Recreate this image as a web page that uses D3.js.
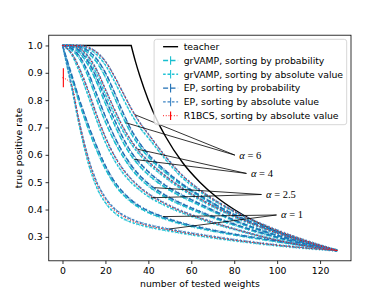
<!DOCTYPE html>
<html>
<head>
<meta charset="utf-8">
<script src="https://cdn.jsdelivr.net/npm/d3@7"></script>
<style>
html, body { margin: 0; padding: 0; background: #fff; }
svg { display: block; font-family: "DejaVu Sans", sans-serif; }
</style>
</head>
<body>
<div id="chart"></div>
<script>
// x positions shared by all method curves
const testedWeights = [0, 4, 8, 12, 16, 20, 24, 28, 32, 36, 40, 48, 56, 64, 80, 96, 112, 128];

// teacher curve
const teacherX = [0, 32, 34, 36, 40, 44, 48, 56, 64, 72, 80, 96, 112, 128];
const teacherY = [1, 1, 0.941, 0.889, 0.8, 0.727, 0.667, 0.571, 0.5, 0.444, 0.4, 0.333, 0.286, 0.25];

// alpha = 1
const grvampProbA1 = [1, 0.89, 0.785, 0.695, 0.615, 0.548, 0.495, 0.456, 0.428, 0.406, 0.389, 0.365, 0.346, 0.331, 0.307, 0.287, 0.268, 0.25];
const epProbA1     = [1, 0.90, 0.80, 0.71, 0.63, 0.56, 0.505, 0.465, 0.435, 0.412, 0.395, 0.37, 0.35, 0.335, 0.31, 0.29, 0.27, 0.25];
const grvampAbsA1  = [1, 0.855, 0.70, 0.57, 0.48, 0.425, 0.39, 0.368, 0.354, 0.344, 0.336, 0.324, 0.313, 0.303, 0.286, 0.271, 0.259, 0.25];
const epAbsA1      = [1, 0.865, 0.715, 0.59, 0.50, 0.443, 0.405, 0.381, 0.365, 0.353, 0.344, 0.331, 0.319, 0.309, 0.29, 0.274, 0.261, 0.25];
const r1bcsAbsA1   = [0.882, 0.86, 0.71, 0.582, 0.492, 0.436, 0.399, 0.376, 0.36, 0.349, 0.34, 0.328, 0.316, 0.306, 0.288, 0.273, 0.26, 0.25];

// alpha = 2.5
const grvampProbA25 = [1, 0.985, 0.95, 0.885, 0.80, 0.72, 0.652, 0.596, 0.55, 0.514, 0.486, 0.445, 0.414, 0.388, 0.343, 0.305, 0.274, 0.25];
const epProbA25     = [1, 0.99, 0.96, 0.90, 0.82, 0.74, 0.67, 0.61, 0.562, 0.524, 0.495, 0.452, 0.42, 0.393, 0.347, 0.308, 0.276, 0.25];
const grvampAbsA25  = [1, 0.97, 0.90, 0.815, 0.725, 0.645, 0.583, 0.535, 0.499, 0.471, 0.448, 0.414, 0.387, 0.365, 0.327, 0.294, 0.268, 0.25];
const epAbsA25      = [1, 0.975, 0.915, 0.835, 0.745, 0.665, 0.60, 0.55, 0.512, 0.482, 0.458, 0.422, 0.393, 0.37, 0.33, 0.296, 0.27, 0.25];
const r1bcsAbsA25   = [1, 0.974, 0.912, 0.832, 0.742, 0.662, 0.598, 0.548, 0.51, 0.48, 0.456, 0.42, 0.391, 0.368, 0.329, 0.295, 0.269, 0.25];

// alpha = 4
const grvampProbA4 = [1, 0.995, 0.972, 0.928, 0.864, 0.787, 0.714, 0.649, 0.597, 0.558, 0.527, 0.48, 0.445, 0.415, 0.358, 0.313, 0.279, 0.25];
const epProbA4     = [1, 0.997, 0.98, 0.94, 0.88, 0.805, 0.732, 0.665, 0.61, 0.57, 0.538, 0.488, 0.452, 0.421, 0.362, 0.316, 0.281, 0.25];
const grvampAbsA4  = [1, 0.998, 0.985, 0.95, 0.895, 0.822, 0.752, 0.69, 0.64, 0.6, 0.568, 0.516, 0.472, 0.435, 0.373, 0.323, 0.283, 0.25];
const epAbsA4      = [1, 1, 0.99, 0.96, 0.91, 0.84, 0.77, 0.705, 0.652, 0.61, 0.577, 0.523, 0.478, 0.44, 0.377, 0.326, 0.285, 0.25];
const r1bcsAbsA4   = [1, 1, 0.989, 0.958, 0.908, 0.838, 0.768, 0.703, 0.65, 0.608, 0.575, 0.522, 0.477, 0.439, 0.376, 0.325, 0.284, 0.25];

// alpha = 6
const grvampProbA6 = [1, 1, 0.993, 0.972, 0.938, 0.884, 0.814, 0.741, 0.678, 0.63, 0.592, 0.535, 0.487, 0.448, 0.379, 0.328, 0.285, 0.25];
const epProbA6     = [1, 1, 0.996, 0.98, 0.95, 0.9, 0.832, 0.758, 0.692, 0.642, 0.602, 0.542, 0.492, 0.452, 0.382, 0.33, 0.286, 0.25];
const grvampAbsA6  = [1, 1, 0.998, 0.988, 0.966, 0.928, 0.872, 0.81, 0.75, 0.70, 0.662, 0.583, 0.515, 0.466, 0.391, 0.335, 0.289, 0.25];
const epAbsA6      = [1, 1, 1, 0.993, 0.975, 0.942, 0.89, 0.83, 0.77, 0.718, 0.676, 0.594, 0.524, 0.472, 0.394, 0.337, 0.29, 0.25];
const r1bcsAbsA6   = [1, 1, 1, 0.992, 0.974, 0.941, 0.889, 0.829, 0.769, 0.717, 0.675, 0.593, 0.523, 0.471, 0.393, 0.336, 0.29, 0.25];

// error bar on the first R1BCS point at alpha = 1
const r1bcsStartErr = 0.035;

const xTicks = [0, 20, 40, 60, 80, 100, 120];
const yTicks = [0.3, 0.4, 0.5, 0.6, 0.7, 0.8, 0.9, 1.0];

const methods = [
    { key: "grvampProb", label: "grVAMP, sorting by probability",    color: "#17becf", dash: "5,2.4",   width: 1.4, ticks: true },
    { key: "grvampAbs",  label: "grVAMP, sorting by absolute value", color: "#22c3d6", dash: "2.6,1.8", width: 1.4, ticks: true },
    { key: "epProb",     label: "EP, sorting by probability",        color: "#1f6fb4", dash: "5,2.4",   width: 1.4, ticks: true },
    { key: "epAbs",      label: "EP, sorting by absolute value",     color: "#3c84c4", dash: "2.6,1.8", width: 1.4, ticks: true },
    { key: "r1bcsAbs",   label: "R1BCS, sorting by absolute value",  color: "#ff0000", dash: "0.9,1.8", width: 1.0, ticks: false }
];

const seriesByMethod = {
    grvampProb: [grvampProbA1, grvampProbA25, grvampProbA4, grvampProbA6],
    grvampAbs:  [grvampAbsA1, grvampAbsA25, grvampAbsA4, grvampAbsA6],
    epProb:     [epProbA1, epProbA25, epProbA4, epProbA6],
    epAbs:      [epAbsA1, epAbsA25, epAbsA4, epAbsA6],
    r1bcsAbs:   [r1bcsAbsA1, r1bcsAbsA25, r1bcsAbsA4, r1bcsAbsA6]
};

// annotations: text position (data units) and the curves the lines point to
const annotations = [
    { label: "6",   textX: 82.4, textY: 0.599, targets: [{ s: grvampProbA6, x: 29.5 }, { s: epAbsA6, x: 33.8 }] },
    { label: "4",   textX: 87.8, textY: 0.532, targets: [{ s: grvampProbA4, x: 33.4 }, { s: epAbsA4, x: 35.0 }] },
    { label: "2.5", textX: 94.8, textY: 0.455, targets: [{ s: epProbA25, x: 42.8 }, { s: grvampAbsA25, x: 41.2 }] },
    { label: "1",   textX: 101.8, textY: 0.380, targets: [{ s: epProbA1, x: 46.7 }, { s: epAbsA1, x: 49.6 }] }
];

const W = 390, H = 293;
const margin = { left: 48.75, right: 39, top: 35.2, bottom: 32.2 };
const fs = 9.3;

const svg = d3.select("#chart").append("svg")
    .attr("width", W)
    .attr("height", H);

const x = d3.scaleLinear().domain([-6.4, 134.4]).range([margin.left, W - margin.right]);
const y = d3.scaleLinear().domain([0.2125, 1.0375]).range([H - margin.bottom, margin.top]);

svg.append("defs").append("clipPath").attr("id", "plot-clip")
    .append("rect")
    .attr("x", margin.left).attr("y", margin.top)
    .attr("width", W - margin.left - margin.right)
    .attr("height", H - margin.top - margin.bottom);

const plot = svg.append("g").attr("clip-path", "url(#plot-clip)");

const line = d3.line()
    .x(d => x(d[0]))
    .y(d => y(d[1]))
    .curve(d3.curveMonotoneX);

// teacher: flat part then decay
const teacherPts = teacherX.map((v, i) => [v, teacherY[i]]);
plot.append("path")
    .attr("d", d3.line().x(d => x(d[0])).y(d => y(d[1]))(teacherPts.slice(0, 2)) + line(teacherPts.slice(1)).replace(/^M/, "L"))
    .attr("fill", "none")
    .attr("stroke", "#000")
    .attr("stroke-width", 1.4);

// method curves with dense error-bar ticks
methods.forEach(m => {
    seriesByMethod[m.key].forEach(vals => {
        const pts = testedWeights.map((v, i) => [v, vals[i]]);
        const path = plot.append("path")
            .attr("d", line(pts))
            .attr("fill", "none")
            .attr("stroke", m.color)
            .attr("stroke-width", m.width)
            .attr("stroke-dasharray", m.dash);

        if (!m.ticks) return;
        const node = path.node();
        const len = node.getTotalLength();
        const ticks = [];
        for (let l = 1; l < len; l += 3.3) ticks.push(node.getPointAtLength(l));
        plot.append("g").selectAll("line")
            .data(ticks)
            .join("line")
            .attr("x1", d => d.x).attr("x2", d => d.x)
            .attr("y1", d => d.y - 1.3).attr("y2", d => d.y + 1.3)
            .attr("stroke", m.color)
            .attr("stroke-width", 0.7)
            .attr("opacity", 0.85);
    });
});

// large error bar at the start of R1BCS alpha = 1
plot.append("line")
    .attr("x1", x(0.4)).attr("x2", x(0.4))
    .attr("y1", y(r1bcsAbsA1[0] + r1bcsStartErr))
    .attr("y2", y(r1bcsAbsA1[0] - r1bcsStartErr))
    .attr("stroke", "#ff0000")
    .attr("stroke-width", 1.1);

// annotation lines + labels
annotations.forEach(a => {
    const tx = x(a.textX), ty = y(a.textY);
    a.targets.forEach(t => {
        const interp = d3.scaleLinear().domain(testedWeights).range(t.s);
        svg.append("line")
            .attr("x1", tx - 4.5).attr("y1", ty)
            .attr("x2", x(t.x)).attr("y2", y(interp(t.x)))
            .attr("stroke", "#000")
            .attr("stroke-width", 0.8);
    });
    const txt = svg.append("text")
        .attr("x", tx).attr("y", ty)
        .attr("dy", "0.33em")
        .attr("font-family", "'Liberation Serif', 'DejaVu Serif', serif")
        .attr("font-size", 10.5);
    txt.append("tspan").attr("font-style", "italic").text("α");
    txt.append("tspan").text(" = " + a.label);
});

// axes
const xAxis = svg.append("g")
    .attr("transform", `translate(0,${H - margin.bottom})`)
    .call(d3.axisBottom(x).tickValues(xTicks).tickSize(3.2).tickPadding(3));
const yAxis = svg.append("g")
    .attr("transform", `translate(${margin.left},0)`)
    .call(d3.axisLeft(y).tickValues(yTicks).tickFormat(d3.format(".1f")).tickSize(3.2).tickPadding(3));

[xAxis, yAxis].forEach(g => {
    g.select(".domain").remove();
    g.selectAll("line").attr("stroke", "#000").attr("stroke-width", 0.8);
    g.selectAll("text").attr("font-size", fs).attr("fill", "#000")
        .attr("font-family", "'DejaVu Sans', sans-serif");
});

// spines
svg.append("rect")
    .attr("x", margin.left).attr("y", margin.top)
    .attr("width", W - margin.left - margin.right)
    .attr("height", H - margin.top - margin.bottom)
    .attr("fill", "none")
    .attr("stroke", "#000")
    .attr("stroke-width", 0.8);

svg.append("text")
    .attr("x", (margin.left + W - margin.right) / 2)
    .attr("y", 286.5)
    .attr("text-anchor", "middle")
    .attr("font-size", fs)
    .text("number of tested weights");

svg.append("text")
    .attr("transform", `translate(22,${(margin.top + H - margin.bottom) / 2}) rotate(-90)`)
    .attr("text-anchor", "middle")
    .attr("font-size", fs)
    .text("true positive rate");

// legend
const legendItems = [{ label: "teacher", color: "#000", dash: null, width: 1.4, bar: false }]
    .concat(methods.map(m => ({ label: m.label, color: m.color, dash: m.dash, width: m.width, bar: true })));

const legend = svg.append("g");
const frame = legend.append("rect");
const rows = legend.append("g");
const rowH = 13.8;
let textW = 0;
legendItems.forEach((d, i) => {
    const ry = i * rowH;
    const g = rows.append("g").attr("transform", `translate(0,${ry})`);
    g.append("line")
        .attr("x1", 9).attr("x2", 24).attr("y1", 0).attr("y2", 0)
        .attr("stroke", d.color)
        .attr("stroke-width", d.width)
        .attr("stroke-dasharray", d.dash);
    if (d.bar) {
        g.append("line")
            .attr("x1", 16.5).attr("x2", 16.5).attr("y1", -4.3).attr("y2", 4.3)
            .attr("stroke", d.color).attr("stroke-width", 1.1);
    }
    const t = g.append("text")
        .attr("x", 29.6).attr("y", 0).attr("dy", "0.35em")
        .attr("font-size", fs)
        .text(d.label);
    textW = Math.max(textW, t.node().getComputedTextLength());
});
const legW = 29.6 + textW + 3.6;
const legH = rowH * (legendItems.length - 1) + 16.4;
const legX = W - margin.right - 4.3 - legW;
const legY = margin.top + 4.1;
frame.attr("x", 0).attr("y", 0).attr("width", legW).attr("height", legH)
    .attr("rx", 2.5)
    .attr("fill", "#fff").attr("fill-opacity", 0.8)
    .attr("stroke", "#cccccc").attr("stroke-width", 0.8);
rows.attr("transform", "translate(0,7.4)");
legend.attr("transform", `translate(${legX},${legY})`);
</script>
</body>
</html>
